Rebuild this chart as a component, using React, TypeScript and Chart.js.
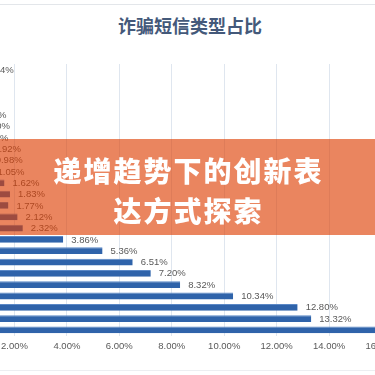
import React, { useEffect, useRef } from "react";
import { Chart, registerables } from "chart.js";

Chart.register(...registerables);

const title = "诈骗短信类型占比";
const bannerLines = ["递增趋势下的创新表", "达方式探索"];

const categories = [
  "类型01", "类型02", "类型03", "类型04", "类型05", "类型06",
  "类型07", "类型08", "类型09", "类型10", "类型11", "类型12",
  "类型13", "类型14", "类型15", "类型16", "类型17", "类型18",
  "类型19", "类型20", "类型21", "类型22", "类型23", "类型24",
];

const shares = [
  0.64, 0.08, 0.06, 0.1, 0.36, 0.5,
  0.44, 0.92, 0.98, 1.05, 1.62, 1.83,
  1.77, 2.12, 2.32, 3.86, 5.36, 6.51,
  7.2, 8.32, 10.34, 12.8, 13.32, 17.5,
];

const xMin = 0;
const xMax = 18;
const xStep = 2;

const LABEL_FONT = '9.5px "Liberation Sans", Arial, sans-serif';

const valueLabels = {
  id: "valueLabels",
  afterDatasetsDraw(chart: any) {
    const { ctx } = chart;
    const meta = chart.getDatasetMeta(0);
    ctx.save();
    ctx.font = LABEL_FONT;
    ctx.fillStyle = "#595959";
    ctx.textBaseline = "middle";
    ctx.textAlign = "left";
    meta.data.forEach((bar: any, i: number) => {
      ctx.fillText(shares[i].toFixed(2) + "%", bar.x + 8, bar.y + 0.5);
    });
    ctx.restore();
  },
};

export default function App() {
  const canvasRef = useRef<HTMLCanvasElement | null>(null);

  useEffect(() => {
    if (!canvasRef.current) return;
    const chart = new Chart(canvasRef.current, {
      type: "bar",
      data: {
        labels: categories,
        datasets: [
          {
            data: shares,
            backgroundColor: "#2f63aa",
            borderColor: "#5b88c6",
            borderWidth: { top: 1, left: 0, right: 0, bottom: 0 },
            borderSkipped: false,
            barPercentage: 0.6,
            categoryPercentage: 1,
          },
        ],
      },
      options: {
        indexAxis: "y",
        animation: false,
        responsive: true,
        maintainAspectRatio: false,
        layout: { padding: { top: 64, bottom: 18, left: 40, right: 30 } },
        plugins: {
          legend: { display: false },
          tooltip: { enabled: false },
          title: { display: false },
        },
        scales: {
          x: {
            min: xMin,
            max: xMax,
            ticks: {
              stepSize: xStep,
              padding: 5,
              color: "#595959",
              font: { family: '"Liberation Sans", Arial, sans-serif', size: 9.5 },
              callback: (v: any) => Number(v).toFixed(2) + "%",
            },
            grid: { color: "#dfe6ef", drawTicks: false, lineWidth: 1 },
            border: { display: false },
          },
          y: { display: false },
        },
      },
      plugins: [valueLabels],
    });
    return () => chart.destroy();
  }, []);

  return (
    <div
      style={{
        position: "fixed",
        left: 0,
        top: 0,
        width: 375,
        height: 375,
        overflow: "hidden",
        background: "#ffffff",
      }}
    >
      <div style={{ position: "absolute", left: 0, top: 4, width: 375, height: 1, background: "#e3e6ea" }} />
      <div style={{ position: "absolute", left: 0, top: 370, width: 375, height: 1, background: "#eceef1" }} />
      <div
        style={{
          position: "absolute",
          left: 0,
          top: 14,
          width: 380,
          textAlign: "center",
          fontFamily: '"Noto Sans CJK SC", sans-serif',
          fontWeight: 700,
          fontSize: 18,
          lineHeight: "22px",
          color: "#44597a",
        }}
      >
        {title}
      </div>
      <div style={{ position: "absolute", left: -78, top: 0, width: 542, height: 375 }}>
        <canvas ref={canvasRef} />
      </div>
      <div
        style={{
          position: "absolute",
          left: 0,
          top: 139,
          width: 375,
          height: 96,
          background: "rgba(221,62,2,0.63)",
          display: "flex",
          flexDirection: "column",
          alignItems: "center",
          justifyContent: "center",
          fontFamily: '"Noto Sans CJK SC", sans-serif',
          fontWeight: 900,
          fontSize: 28,
          lineHeight: "40px",
          color: "#ffffff",
          letterSpacing: 2,
          paddingTop: 6,
          boxSizing: "border-box",
        }}
      >
        {bannerLines.map((l, i) => (
          <div key={i} style={{ paddingLeft: 2 }}>{l}</div>
        ))}
      </div>
    </div>
  );
}
